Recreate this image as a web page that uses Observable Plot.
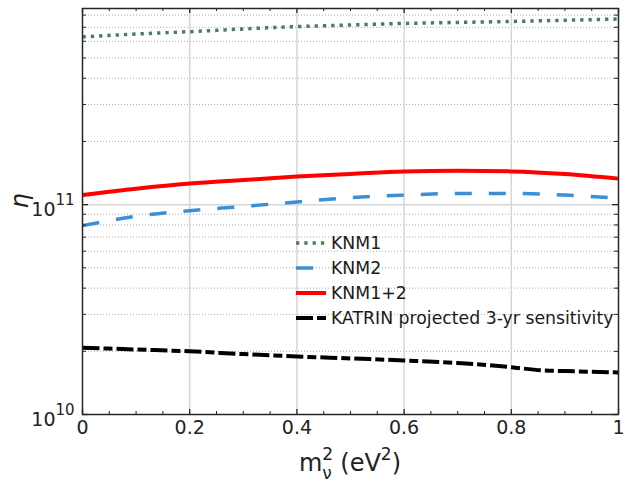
<!DOCTYPE html>
<html><head><meta charset="utf-8">
<script src="https://cdn.jsdelivr.net/npm/d3@7"></script>
<script src="https://cdn.jsdelivr.net/npm/@observablehq/plot@0.6"></script>
<style>
body{margin:0;background:#fff;}
#wrap{position:relative;width:631px;height:482px;font-family:"DejaVu Sans";}
.leg{position:absolute;left:296px;top:230px;font-size:17.3px;color:#1a1a1a;}
.row{height:25px;display:flex;align-items:center;white-space:nowrap;}
.row svg{margin-right:5px;}
</style></head><body><div id="wrap"></div>
<script>
// ---- data ----
const m2 = [0, 0.1, 0.2, 0.3, 0.4, 0.5, 0.6, 0.7, 0.8, 0.9, 1.0];
const knm1 = [6.3e11, 6.5e11, 6.67e11, 6.87e11, 7.05e11, 7.18e11, 7.3e11, 7.38e11, 7.46e11, 7.56e11, 7.66e11];
const knm2 = [7.94e10, 8.8e10, 9.36e10, 9.8e10, 1.03e11, 1.08e11, 1.11e11, 1.13e11, 1.13e11, 1.11e11, 1.075e11];
const knm12 = [1.11e11, 1.19e11, 1.26e11, 1.31e11, 1.36e11, 1.40e11, 1.44e11, 1.45e11, 1.44e11, 1.40e11, 1.33e11];
const katrinX = [0, 0.1, 0.2, 0.3, 0.4, 0.5, 0.6, 0.7, 0.8, 0.86, 0.9, 1.0];
const katrin = [2.08e10, 2.04e10, 2.0e10, 1.94e10, 1.89e10, 1.85e10, 1.81e10, 1.76e10, 1.68e10, 1.62e10, 1.61e10, 1.585e10];
const xTicks = [0, 0.2, 0.4, 0.6, 0.8, 1];
const xTickLabels = ["0", "0.2", "0.4", "0.6", "0.8", "1"];
const xMinor = [0.05,0.1,0.15,0.25,0.3,0.35,0.45,0.5,0.55,0.65,0.7,0.75,0.85,0.9,0.95];
const yMajor = [1e10, 1e11];
const yMajorExp = ["10", "11"];
const yMinor = [2e10,3e10,4e10,5e10,6e10,7e10,8e10,9e10,2e11,3e11,4e11,5e11,6e11,7e11,8e11];
const seriesNames = ["KNM1", "KNM2", "KNM1+2", "KATRIN projected 3-yr sensitivity"];
const seriesColors = ["#4b7b62", "#3a8fd6", "#ff0000", "#000000"];
const seriesDash = ["3.3,5", "17,17", null, "17,4,9,4"];
const seriesWidth = [3.5, 3.5, 4, 4];

// ---- chart ----
const W = 631, H = 482, mt = 8, mr = 13, mb = 68, ml = 82;
const ph = H - mt - mb, pw = W - ml - mr;
const rows = (xs, ys) => xs.map((x, i) => ({x, y: ys[i]}));
const allSeries = [rows(m2, knm1), rows(m2, knm2), rows(m2, knm12), rows(katrinX, katrin)];

const lineMarks = allSeries.map((d, i) => Plot.line(d, {
  x: "x", y: "y", curve: "monotone-x",
  stroke: seriesColors[i], strokeWidth: seriesWidth[i],
  strokeDasharray: seriesDash[i], strokeLinecap: "butt"
}));

const chart = Plot.plot({
  width: W, height: H,
  marginTop: mt, marginRight: mr, marginBottom: mb, marginLeft: ml,
  style: {fontFamily: "DejaVu Sans", fontSize: "19px", color: "#222", background: "white"},
  x: {domain: [0, 1], axis: null},
  y: {type: "log", domain: [1e10, 8.6e11], axis: null},
  marks: [
    Plot.ruleY(yMinor, {stroke: "#aaa", strokeDasharray: "1,2", strokeWidth: 1}),
    Plot.ruleX(xTicks.slice(1, -1), {stroke: "#d6d6d6", strokeWidth: 1.5}),
    Plot.ruleY([1e11], {stroke: "#d6d6d6", strokeWidth: 1.5}),
    ...lineMarks,
    Plot.frame({stroke: "#262626", strokeWidth: 1.5}),
    Plot.tickX(xTicks, {x: d => d, insetTop: ph - 5, stroke: "#262626", strokeWidth: 1.3}),
    Plot.tickX(xTicks, {x: d => d, insetBottom: ph - 5, stroke: "#262626", strokeWidth: 1.3}),
    Plot.tickX(xMinor, {x: d => d, insetTop: ph - 3, stroke: "#262626", strokeWidth: 1}),
    Plot.tickX(xMinor, {x: d => d, insetBottom: ph - 3, stroke: "#262626", strokeWidth: 1}),
    Plot.tickY(yMajor, {y: d => d, insetRight: pw - 6, stroke: "#262626", strokeWidth: 1.3}),
    Plot.tickY(yMajor, {y: d => d, insetLeft: pw - 6, stroke: "#262626", strokeWidth: 1.3}),
    Plot.tickY(yMinor, {y: d => d, insetRight: pw - 4, stroke: "#262626", strokeWidth: 1}),
    Plot.tickY(yMinor, {y: d => d, insetLeft: pw - 4, stroke: "#262626", strokeWidth: 1}),
    Plot.text(xTicks, {x: d => d, frameAnchor: "bottom", dy: 19, text: (d, i) => xTickLabels[i], fontSize: 19, fill: "#222"}),
    Plot.text(yMajor, {y: d => d, frameAnchor: "left", dx: -27, dy: 5, textAnchor: "end", text: () => "10", fontSize: 19, fill: "#222"}),
    Plot.text(yMajor, {y: d => d, frameAnchor: "left", dx: -27, dy: -4, textAnchor: "start", text: (d, i) => yMajorExp[i], fontSize: 15, fill: "#222"}),
    Plot.text(["η"], {frameAnchor: "left", dx: -62, dy: -3, rotate: -90, fontSize: 24, fontStyle: "italic", fill: "#222"})
  ]
});

const wrap = document.getElementById("wrap");
wrap.appendChild(chart);

// x-axis label with super/subscripts
const svg = d3.select(chart);
const xl = svg.append("text")
  .attr("x", ml + pw / 2).attr("y", 471)
  .attr("text-anchor", "middle")
  .attr("font-family", "DejaVu Sans").attr("font-size", 24).attr("fill", "#222");
xl.append("tspan").text("m");
xl.append("tspan").attr("dy", -11).attr("font-size", 17).text("2");
xl.append("tspan").attr("dx", -10.8).attr("dy", 19).attr("font-size", 17).text("ν");
xl.append("tspan").attr("dx", 0.8).attr("dy", -8).text(" (eV");
xl.append("tspan").attr("dy", -11).attr("font-size", 17).text("2");
xl.append("tspan").attr("dy", 11).text(")");

// legend
const leg = document.createElement("div");
leg.className = "leg";
seriesNames.forEach((name, i) => {
  const row = document.createElement("div");
  row.className = "row";
  const s = d3.create("svg").attr("width", 30).attr("height", 10);
  s.append("line").attr("x1", 0).attr("x2", 30).attr("y1", 5).attr("y2", 5)
    .attr("stroke", seriesColors[i]).attr("stroke-width", seriesWidth[i])
    .attr("stroke-dasharray", seriesDash[i]);
  row.appendChild(s.node());
  const t = document.createElement("span");
  t.textContent = name;
  row.appendChild(t);
  leg.appendChild(row);
});
wrap.appendChild(leg);
</script></body></html>
